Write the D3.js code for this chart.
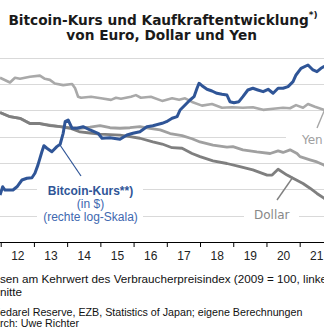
<!DOCTYPE html>
<html>
<head>
<meta charset="utf-8">
<script src="https://cdn.jsdelivr.net/npm/d3@7"></script>
<style>
  body { margin: 0; background: #fff; }
  svg { display: block; font-family: "Liberation Sans", Arial, sans-serif; }
</style>
</head>
<body>
<div id="chart"></div>
<script>
// tick years and their labels
const tickYears = [2012, 2013, 2014, 2015, 2016, 2017, 2018, 2019, 2020, 2021, 2022];
const labelYears = [2012, 2013, 2014, 2015, 2016, 2017, 2018, 2019, 2020, 2021];
const yearLabels = ['12', '13', '14', '15', '16', '17', '18', '19', '20', '21'];
const gridValues = [75, 80, 85, 90, 95, 100, 105];

// purchasing power index (2009 = 100), [year, value]
const yen = [
  [2011.98, 101.3], [2012.28, 100.4], [2012.43, 101.3], [2012.58, 101.1], [2012.88, 101.5],
  [2013.18, 101.7], [2013.33, 101.1], [2013.48, 100.9], [2013.63, 100.2], [2013.88, 99.9],
  [2014.15, 100.1], [2014.24, 99.3], [2014.33, 97.7], [2014.42, 97.5], [2014.72, 97.7],
  [2015.02, 97.4], [2015.32, 97.1], [2015.47, 97.5], [2015.62, 97.3], [2015.92, 97.7],
  [2016.07, 98.0], [2016.22, 97.5], [2016.52, 97.7], [2016.86, 96.9], [2017.16, 97.4],
  [2017.37, 97.1], [2017.55, 97.4], [2017.76, 96.7], [2018.06, 96.0], [2018.36, 96.3],
  [2018.66, 95.6], [2018.96, 95.7], [2019.29, 95.6], [2019.59, 95.7], [2019.90, 95.2],
  [2020.20, 95.4], [2020.50, 95.6], [2020.71, 95.5], [2020.89, 96.1], [2021.10, 95.6],
  [2021.25, 96.3], [2021.46, 95.8], [2021.73, 95.2], [2021.90, 95.3]
];

const euro = [
  [2011.98, 94.7], [2012.28, 93.9], [2012.58, 93.6], [2012.88, 92.6], [2013.18, 92.6],
  [2013.48, 92.3], [2013.79, 92.0], [2014.09, 91.8], [2014.39, 91.7], [2014.69, 91.9],
  [2014.99, 92.2], [2015.29, 91.8], [2015.59, 91.7], [2015.89, 91.8], [2016.19, 92.0],
  [2016.49, 91.7], [2016.80, 91.4], [2017.10, 90.7], [2017.46, 90.3], [2017.76, 89.7],
  [2018.00, 89.1], [2018.39, 88.5], [2018.81, 88.1], [2018.99, 88.2], [2019.29, 87.6],
  [2019.71, 87.2], [2020.11, 86.9], [2020.35, 87.4], [2020.50, 87.1], [2020.71, 87.6],
  [2020.92, 86.9], [2021.01, 86.3], [2021.31, 85.7], [2021.52, 85.3], [2021.73, 84.7],
  [2021.90, 84.0]
];

const dollar = [
  [2011.98, 94.7], [2012.28, 93.9], [2012.58, 93.6], [2012.88, 92.6], [2013.18, 92.6],
  [2013.48, 92.2], [2013.79, 92.0], [2014.09, 91.7], [2014.39, 91.0], [2014.69, 90.8],
  [2014.99, 90.6], [2015.29, 90.5], [2015.59, 90.4], [2015.89, 90.1], [2016.19, 89.8],
  [2016.58, 89.1], [2016.86, 88.7], [2017.16, 88.0], [2017.46, 87.9], [2017.76, 86.9],
  [2018.00, 86.3], [2018.39, 85.5], [2018.81, 85.0], [2019.20, 84.4], [2019.59, 83.8],
  [2020.02, 82.8], [2020.17, 82.8], [2020.35, 83.9], [2020.62, 82.8], [2020.80, 82.2],
  [2021.10, 81.2], [2021.31, 80.3], [2021.52, 79.3], [2021.73, 78.4], [2021.90, 77.6]
];

// bitcoin monthly average in $, [year, price]
const bitcoin = [
  [2011.98, 3.5], [2012.06, 6.5], [2012.13, 5.1], [2012.37, 5.1], [2012.49, 6.5],
  [2012.64, 10.8], [2012.79, 12.3], [2012.94, 12.8], [2013.03, 17.9], [2013.12, 33],
  [2013.24, 90], [2013.30, 142], [2013.39, 117], [2013.54, 90], [2013.69, 132],
  [2013.79, 158], [2013.88, 360], [2013.94, 860], [2014.03, 977], [2014.15, 524],
  [2014.30, 524], [2014.48, 590], [2014.69, 461], [2014.93, 360], [2015.05, 247],
  [2015.29, 259], [2015.59, 229], [2015.80, 317], [2015.98, 360], [2016.19, 406],
  [2016.40, 590], [2016.58, 637], [2016.86, 762], [2016.99, 860], [2017.16, 1109],
  [2017.31, 1250], [2017.40, 2066], [2017.55, 3008], [2017.70, 4378], [2017.82, 5610],
  [2017.91, 10540], [2017.97, 15350], [2018.06, 12820], [2018.21, 9770], [2018.36, 8600],
  [2018.51, 7240], [2018.66, 6710], [2018.81, 6370], [2018.90, 3855], [2019.02, 3575],
  [2019.17, 3855], [2019.29, 5610], [2019.44, 9270], [2019.59, 10540], [2019.74, 9270],
  [2019.90, 8160], [2020.05, 9770], [2020.20, 7240], [2020.35, 10540], [2020.50, 10540],
  [2020.65, 11890], [2020.80, 17300], [2020.89, 28600], [2021.04, 47300], [2021.25, 60500],
  [2021.40, 41600], [2021.52, 36600], [2021.64, 47300], [2021.73, 53300], [2021.85, 61000]
];

const footnotes = [
  { text: '*) Kaufkraft gemessen am Kehrwert des Verbraucherpreisindex (2009 = 100, linke Skala)', from: 'sen am', y: 282.5, size: 11.7 },
  { text: '**) Monatsdurchschnitte', from: 'nitte', y: 295.5, size: 11.7 },
  { text: 'Quellen: Fedarel Reserve, EZB, Statistics of Japan; eigene Berechnungen', from: 'edarel', y: 315.5, size: 10.7 },
  { text: 'Research: Uwe Richter', from: 'rch:', y: 327, size: 10.7 }
];

const width = 324;
const height = 334;
const axisY = 242.4;

const svg = d3.select('#chart')
  .append('svg')
  .attr('width', width)
  .attr('height', height);

const x = d3.scaleLinear().domain([2012, 2022]).range([0.7, 332.9]);
const yIndex = d3.scaleLinear().domain([70, 105]).range([axisY, 58.3]);
const yBtc = d3.scaleLog().domain([0.1, 100000]).range([axisY, 58.3]);

// gridlines
svg.append('g')
  .attr('class', 'gridlines')
  .selectAll('line')
  .data(gridValues)
  .join('line')
  .attr('x1', 0)
  .attr('x2', width)
  .attr('y1', (d) => Math.floor(yIndex(d)) + 0.5)
  .attr('y2', (d) => Math.floor(yIndex(d)) + 0.5)
  .attr('stroke', '#d9d9d9')
  .attr('stroke-width', 1);

// white boxes behind the labels
const boxes = svg.append('g').attr('fill', '#fff');
boxes.append('rect').attr('x', 37).attr('y', 181).attr('width', 106).attr('height', 45);
boxes.append('rect').attr('x', 286).attr('y', 131).attr('width', 44).attr('height', 16);
boxes.append('rect').attr('x', 244).attr('y', 207).attr('width', 55).attr('height', 16);

// x axis
const xAxis = svg.append('g')
  .attr('transform', `translate(0, ${Math.floor(axisY)})`)
  .call(d3.axisBottom(x).tickValues(tickYears).tickSize(5).tickSizeOuter(0).tickFormat(''));
xAxis.select('.domain').remove();
xAxis.selectAll('line').attr('stroke', '#000');

svg.append('line')
  .attr('x1', 0)
  .attr('x2', width)
  .attr('y1', Math.floor(axisY) + 0.5)
  .attr('y2', Math.floor(axisY) + 0.5)
  .attr('stroke', '#000');

const labelAxis = svg.append('g')
  .attr('transform', `translate(0, ${Math.floor(axisY)})`)
  .call(d3.axisBottom(x)
    .tickValues(labelYears.map((d) => d + 0.5))
    .tickSize(0)
    .tickPadding(9.5)
    .tickFormat((d, i) => yearLabels[i]));
labelAxis.select('.domain').remove();
labelAxis.selectAll('text')
  .attr('fill', '#222')
  .style('font-family', '"Liberation Sans", Arial, sans-serif')
  .style('font-size', '12px');

// lines
const indexLine = d3.line()
  .x((d) => x(d[0]))
  .y((d) => yIndex(d[1]));

const btcLine = d3.line()
  .x((d) => x(d[0]))
  .y((d) => yBtc(d[1]));

const series = [
  { data: yen, color: '#a9a9a9', w: 2.6 },
  { data: euro, color: '#a0a0a0', w: 2.8 },
  { data: dollar, color: '#7f7f7f', w: 2.8 }
];

svg.append('g')
  .selectAll('path')
  .data(series)
  .join('path')
  .attr('d', (d) => indexLine(d.data))
  .attr('fill', 'none')
  .attr('stroke', (d) => d.color)
  .attr('stroke-width', (d) => d.w)
  .attr('stroke-linejoin', 'round');

svg.append('path')
  .datum(bitcoin)
  .attr('d', btcLine)
  .attr('fill', 'none')
  .attr('stroke', '#2f5597')
  .attr('stroke-width', 3)
  .attr('stroke-linejoin', 'round');

// leader lines
svg.append('line')
  .attr('x1', 60).attr('y1', 145).attr('x2', 81).attr('y2', 176)
  .attr('stroke', '#2f5597').attr('stroke-width', 1.2);
svg.append('line')
  .attr('x1', 317).attr('y1', 128).attr('x2', 327).attr('y2', 104)
  .attr('stroke', '#a6a6a6').attr('stroke-width', 1.4);
svg.append('line')
  .attr('x1', 277).attr('y1', 200).attr('x2', 293).attr('y2', 177)
  .attr('stroke', '#808080').attr('stroke-width', 1.4);

// bitcoin label
const btcLabel = svg.append('g').attr('text-anchor', 'middle').style('font-size', '12px');
btcLabel.append('text').attr('x', 90.5).attr('y', 195)
  .attr('fill', '#2f5597').style('font-weight', 'bold').text('Bitcoin-Kurs**)');
btcLabel.append('text').attr('x', 90.5).attr('y', 207.5)
  .attr('fill', '#4068b0').text('(in $)');
btcLabel.append('text').attr('x', 90.5).attr('y', 221)
  .attr('fill', '#4068b0').text('(rechte log-Skala)');

// currency labels
svg.append('text').attr('x', 302).attr('y', 143.5)
  .style('font-family', '"DejaVu Sans", Verdana, sans-serif').style('font-size', '12px')
  .attr('fill', '#a0a0a0').text('Yen');
svg.append('text').attr('x', 254).attr('y', 218.5)
  .style('font-family', '"DejaVu Sans", Verdana, sans-serif').style('font-size', '12px')
  .attr('fill', '#888').text('Dollar');

// title
const title = svg.append('g')
  .attr('text-anchor', 'middle')
  .style('font-family', '"DejaVu Sans", Verdana, sans-serif')
  .style('font-weight', 'bold')
  .attr('fill', '#1a1a1a');
const t1 = title.append('text').attr('x', 163).attr('y', 25).style('font-size', '13.7px');
t1.append('tspan').text('Bitcoin-Kurs und Kaufkraftentwicklung');
t1.append('tspan').attr('dy', -7.5).style('font-size', '9px').text('*)');
title.append('text').attr('x', 161.7).attr('y', 40).style('font-size', '13.7px')
  .text('von Euro, Dollar und Yen');

// footnotes, shifted so the visible part starts at the left edge
svg.append('g')
  .selectAll('text')
  .data(footnotes)
  .join('text')
  .attr('y', (d) => d.y)
  .attr('fill', '#111')
  .style('font-size', (d) => d.size + 'px')
  .text((d) => d.text)
  .attr('x', function (d) {
    const k = d.text.indexOf(d.from);
    return -this.getSubStringLength(0, k);
  });
</script>
</body>
</html>
